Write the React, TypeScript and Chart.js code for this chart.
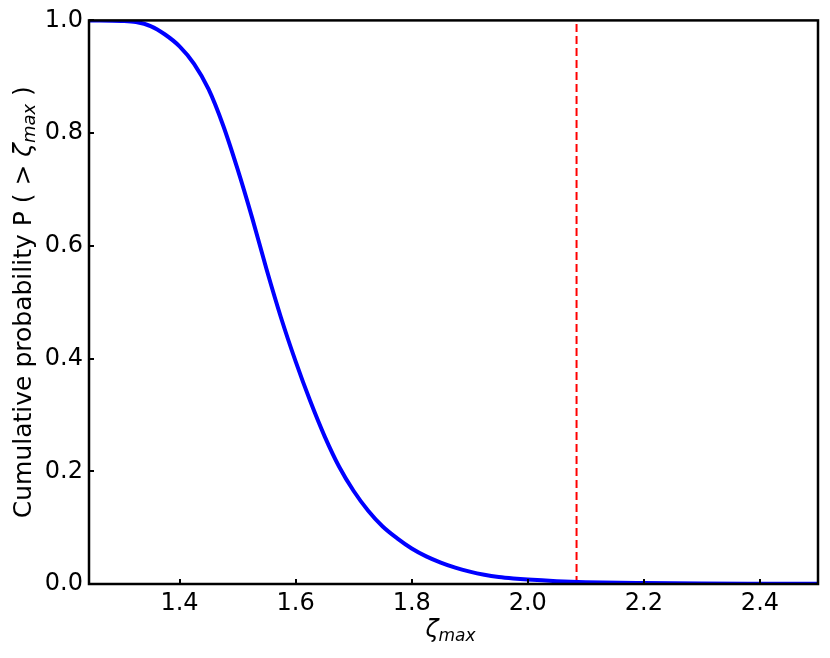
import { useEffect, useRef } from "react";
import { Chart, registerables } from "chart.js";
Chart.register(...registerables);

const zetaValues = [1.244, 1.3, 1.325, 1.35, 1.375, 1.4, 1.425, 1.45, 1.475, 1.5, 1.525, 1.55, 1.575, 1.6, 1.625, 1.65, 1.675, 1.7, 1.725, 1.75, 1.775, 1.8, 1.825, 1.85, 1.875, 1.9, 1.925, 1.95, 1.975, 2.0, 2.05, 2.1, 2.2, 2.3, 2.4, 2.5];
const probValues = [1.0, 0.999, 0.997, 0.99, 0.975, 0.954, 0.923, 0.878, 0.814, 0.736, 0.65, 0.558, 0.472, 0.395, 0.325, 0.262, 0.208, 0.165, 0.13, 0.102, 0.081, 0.063, 0.049, 0.038, 0.029, 0.022, 0.0165, 0.0125, 0.0098, 0.0078, 0.005, 0.0033, 0.0018, 0.001, 0.0006, 0.0004];
const thresholdZeta = 2.084;
const xTicks = [1.4, 1.6, 1.8, 2.0, 2.2, 2.4];
const yTicks = [0, 0.2, 0.4, 0.6, 0.8, 1.0];
const xRange = [1.244, 2.5];
const yRange = [0, 1];
const yTitleMain = "Cumulative probability P ( > ";
const yTitleEnd = " )";
const zetaSymbol = "ζ";
const subText = "max";

const FONT = "'DejaVu Sans', sans-serif";

export default function App() {
  const ref = useRef<HTMLCanvasElement>(null);
  useEffect(() => {
    const framePlugin = {
      id: "frame",
      afterDatasetsDraw(chart: any) {
        const { ctx, chartArea: a, scales } = chart;
        ctx.save();
        ctx.strokeStyle = "#000";
        ctx.lineWidth = 2;
        ctx.beginPath();
        for (const v of xTicks) {
          const p = Math.round(scales.x.getPixelForValue(v));
          ctx.moveTo(p, a.bottom);
          ctx.lineTo(p, a.bottom - 5);
        }
        for (const v of yTicks) {
          const p = Math.round(scales.y.getPixelForValue(v));
          ctx.moveTo(a.left, p);
          ctx.lineTo(a.left + 5, p);
        }
        ctx.stroke();
        ctx.lineWidth = 2.5;
        ctx.strokeRect(a.left, a.top, a.right - a.left, a.bottom - a.top);

        ctx.fillStyle = "#000";
        ctx.textBaseline = "alphabetic";
        ctx.textAlign = "left";
        // x title
        const big = "italic 24px " + FONT;
        const small = "italic 17px " + FONT;
        ctx.font = big;
        const wz = ctx.measureText(zetaSymbol).width;
        ctx.font = small;
        const wm = ctx.measureText(subText).width;
        const cx = (a.left + a.right) / 2 - 3;
        const sx = cx - (wz + wm) / 2;
        ctx.font = big;
        ctx.fillText(zetaSymbol, sx, 637);
        ctx.font = small;
        ctx.fillText(subText, sx + wz, 641);

        // y title
        const reg = "25px " + FONT;
        const ital = "italic 25px " + FONT;
        const sub = "italic 18px " + FONT;
        ctx.font = reg;
        const w1 = ctx.measureText(yTitleMain).width;
        const w2 = ctx.measureText(yTitleEnd).width;
        ctx.font = ital;
        const w3 = ctx.measureText(zetaSymbol).width;
        ctx.font = sub;
        const w4 = ctx.measureText(subText).width;
        const total = w1 + w2 + w3 + w4;
        ctx.translate(31, (a.top + a.bottom) / 2);
        ctx.rotate(-Math.PI / 2);
        let x0 = -total / 2;
        ctx.font = reg;
        ctx.fillText(yTitleMain, x0, 0);
        x0 += w1;
        ctx.font = ital;
        ctx.fillText(zetaSymbol, x0, 0);
        x0 += w3;
        ctx.font = sub;
        ctx.fillText(subText, x0, 4);
        x0 += w4;
        ctx.font = reg;
        ctx.fillText(yTitleEnd, x0, 0);
        ctx.restore();
      },
    };

    const chart = new Chart(ref.current as HTMLCanvasElement, {
      type: "line",
      data: {
        datasets: [
          {
            data: zetaValues.map((x, i) => ({ x, y: probValues[i] })),
            borderColor: "#0000ff",
            borderWidth: 4,
            pointRadius: 0,
            cubicInterpolationMode: "monotone",
            fill: false,
          },
          {
            data: [
              { x: thresholdZeta, y: yRange[0] },
              { x: thresholdZeta, y: yRange[1] },
            ],
            borderColor: "#ff0000",
            borderWidth: 2,
            borderDash: [8, 4],
            pointRadius: 0,
            fill: false,
          },
        ],
      },
      options: {
        animation: false,
        responsive: false,
        events: [],
        layout: { padding: { top: 20, right: 12, left: 0, bottom: 0 } },
        plugins: { legend: { display: false }, tooltip: { enabled: false } },
        scales: {
          x: {
            type: "linear",
            min: xRange[0],
            max: xRange[1],
            afterBuildTicks: (s: any) => {
              s.ticks = xTicks.map((value) => ({ value }));
            },
            afterFit: (s: any) => {
              s.height = 74;
            },
            grid: { display: false, drawTicks: false },
            border: { display: false },
            ticks: {
              font: { size: 24, family: FONT },
              color: "#000",
              padding: 5,
              autoSkip: false,
              maxRotation: 0,
              callback: (v: any) => Number(v).toFixed(1),
            },
          },
          y: {
            type: "linear",
            min: yRange[0],
            max: yRange[1],
            afterBuildTicks: (s: any) => {
              s.ticks = yTicks.map((value) => ({ value }));
            },
            afterFit: (s: any) => {
              s.width = 89;
            },
            grid: { display: false, drawTicks: false },
            border: { display: false },
            ticks: {
              font: { size: 24, family: FONT },
              color: "#000",
              padding: 6,
              autoSkip: false,
              callback: (v: any) => Number(v).toFixed(1),
            },
          },
        },
      },
      plugins: [framePlugin],
    } as any);
    return () => chart.destroy();
  }, []);
  return (
    <canvas
      ref={ref}
      width={830}
      height={658}
      style={{ position: "absolute", left: 0, top: 0, width: 830, height: 658 }}
    />
  );
}
